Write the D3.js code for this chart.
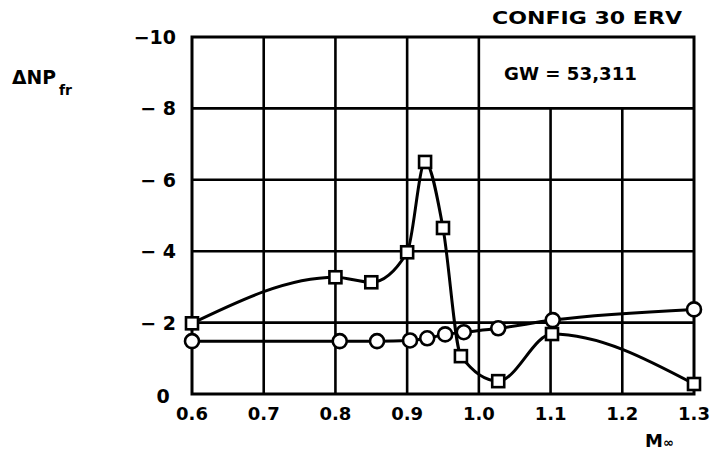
<!DOCTYPE html>
<html><head><meta charset="utf-8">
<script src="https://cdn.jsdelivr.net/npm/d3@7"></script>
<style>body{margin:0;background:#fff}svg{display:block}text{font-family:"DejaVu Sans",sans-serif;font-weight:bold;fill:#000}</style>
</head><body><svg id="c" width="715" height="453"></svg>
<script>
const xTicks = [0.6,0.7,0.8,0.9,1.0,1.1,1.2,1.3];
const xTickLabels = ["0.6","0.7","0.8","0.9","1.0","1.1","1.2","1.3"];
const yTicks = [-10,-8,-6,-4,-2];
const yTickLabels = ["−10","− 8","− 6","− 4","− 2"];
const squareMach = [0.6,0.8,0.85,0.9,0.925,0.95,0.975,1.027,1.102,1.3];
const squareVal  = [-1.98,-3.27,-3.13,-3.97,-6.5,-4.65,-1.06,-0.36,-1.68,-0.28];
const circleMach = [0.6,0.806,0.858,0.904,0.928,0.953,0.979,1.027,1.103,1.3];
const circleVal  = [-1.48,-1.48,-1.48,-1.5,-1.56,-1.67,-1.73,-1.84,-2.07,-2.37];

const svg = d3.select("#c");
const x = d3.scaleLinear().domain([0.6,1.3]).range([192,694]);
const y = d3.scaleLinear().domain([0,-10]).range([394,37]);
const g = svg.append("g");
// grid
const vgrid = xTicks.slice(1,-1);
g.selectAll("line.v").data(vgrid).join("line")
  .attr("x1",d=>x(d)).attr("x2",d=>x(d))
  .attr("y1",d=> d>1.05 ? y(-8) : y(-10)).attr("y2",y(0))
  .attr("stroke","#000").attr("stroke-width",2.6);
g.selectAll("line.h").data(yTicks.slice(1)).join("line")
  .attr("x1",x(0.6)).attr("x2",x(1.3))
  .attr("y1",d=>y(d)).attr("y2",d=>y(d))
  .attr("stroke","#000").attr("stroke-width",2.6);
g.append("rect").attr("x",x(0.6)).attr("y",y(-10)).attr("width",x(1.3)-x(0.6)).attr("height",y(0)-y(-10))
  .attr("fill","none").attr("stroke","#000").attr("stroke-width",3);

// y tick labels
g.selectAll("text.yt").data(yTicks).join("text")
  .attr("x",176).attr("y",d=>y(d)+7).attr("text-anchor","end")
  .attr("font-size",19).text((d,i)=>yTickLabels[i]);
g.append("text").attr("x",163).attr("y",403).attr("text-anchor","middle").attr("font-size",19).text("0");
// x tick labels
g.selectAll("text.xt").data(xTicks).join("text")
  .attr("x",d=>x(d)).attr("y",420).attr("text-anchor","middle")
  .attr("font-size",18).text((d,i)=>xTickLabels[i]);

// lines
const line = d3.line().curve(d3.curveMonotoneX).x(d=>x(d[0])).y(d=>y(d[1]));
const sq = squareMach.map((m,i)=>[m,squareVal[i]]);
const ci = circleMach.map((m,i)=>[m,circleVal[i]]);
g.append("path").attr("d",line(sq)).attr("fill","none").attr("stroke","#000").attr("stroke-width",3);
g.append("path").attr("d",line(ci)).attr("fill","none").attr("stroke","#000").attr("stroke-width",3);
g.selectAll("circle.m").data(ci).join("circle")
  .attr("cx",d=>x(d[0])).attr("cy",d=>y(d[1])).attr("r",7)
  .attr("fill","#fff").attr("stroke","#000").attr("stroke-width",2.6);
g.selectAll("rect.m").data(sq).join("rect")
  .attr("x",d=>x(d[0])-6).attr("y",d=>y(d[1])-6).attr("width",12).attr("height",12)
  .attr("fill","#fff").attr("stroke","#000").attr("stroke-width",2.6);

// titles
svg.append("text").attr("x",492).attr("y",24).attr("font-size",18).attr("textLength",190).attr("lengthAdjust","spacingAndGlyphs").text("CONFIG 30 ERV");
svg.append("text").attr("x",504).attr("y",80).attr("font-size",18).attr("textLength",133).attr("lengthAdjust","spacingAndGlyphs").text("GW = 53,311");
const yl = svg.append("text").attr("x",12).attr("y",84).attr("font-size",20);
yl.append("tspan").attr("textLength",44).attr("lengthAdjust","spacingAndGlyphs").text("ΔNP");
yl.append("tspan").attr("dx",3).attr("dy",11).attr("font-size",14).text("fr");
const xl = svg.append("text").attr("x",645).attr("y",447).attr("font-size",18);
xl.append("tspan").text("M");
xl.append("tspan").attr("font-size",13).text("∞");
</script></body></html>
